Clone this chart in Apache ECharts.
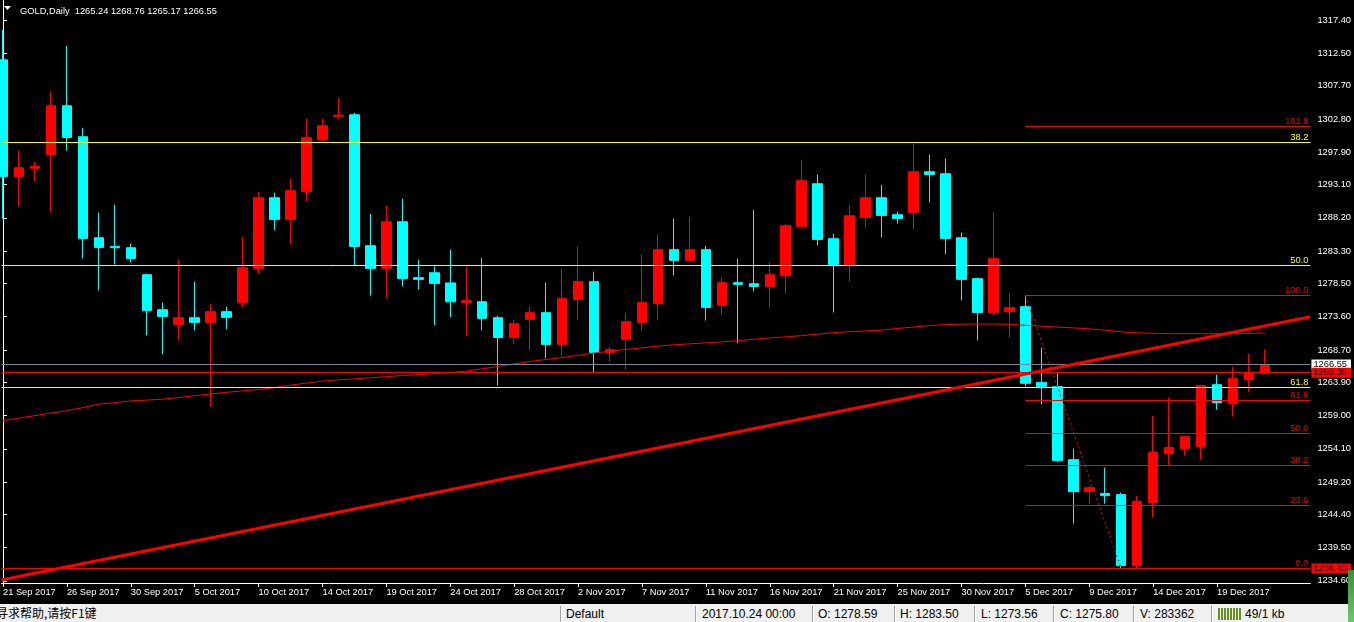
<!DOCTYPE html>
<html>
<head>
<meta charset="utf-8">
<script src="https://cdn.jsdelivr.net/npm/echarts@6/dist/echarts.min.js"></script>
<style>
html,body{margin:0;padding:0;background:#000;width:1354px;height:622px;overflow:hidden;}
#chart{position:absolute;left:0;top:0;width:1354px;height:604px;}
#status{position:absolute;left:0;top:604px;width:1354px;height:18px;background:#f0f0f0;font-family:'Liberation Sans',Arial,sans-serif;font-size:12px;color:#000;overflow:hidden;}
#status span{position:absolute;top:3px;white-space:nowrap;line-height:14px;}
#status .cn{font-family:'Noto Sans CJK SC',sans-serif;font-size:12px;top:2px;}
#status .sep{position:absolute;top:2px;width:1px;height:16px;background:#a0a0a0;border-right:1px solid #fff;}
#green{position:absolute;left:1348px;top:570px;width:6px;height:52px;background:linear-gradient(#3c8c3c,#6cc86c);}
</style>
</head>
<body>
<div id="chart"></div>
<div id="status"></div>
<div id="green"></div>
<script>
// ---------------- data ----------------
const dates = ['21 Sep 2017','22 Sep 2017','23 Sep 2017','25 Sep 2017','26 Sep 2017','27 Sep 2017','28 Sep 2017','29 Sep 2017','30 Sep 2017','2 Oct 2017',
'3 Oct 2017','4 Oct 2017','5 Oct 2017','6 Oct 2017','7 Oct 2017','9 Oct 2017','10 Oct 2017','11 Oct 2017','12 Oct 2017','13 Oct 2017',
'14 Oct 2017','16 Oct 2017','17 Oct 2017','18 Oct 2017','19 Oct 2017','20 Oct 2017','21 Oct 2017','23 Oct 2017','24 Oct 2017','25 Oct 2017',
'26 Oct 2017','27 Oct 2017','28 Oct 2017','30 Oct 2017','31 Oct 2017','1 Nov 2017','2 Nov 2017','3 Nov 2017','4 Nov 2017','6 Nov 2017',
'7 Nov 2017','8 Nov 2017','9 Nov 2017','10 Nov 2017','11 Nov 2017','13 Nov 2017','14 Nov 2017','15 Nov 2017','16 Nov 2017','17 Nov 2017',
'18 Nov 2017','20 Nov 2017','21 Nov 2017','22 Nov 2017','23 Nov 2017','24 Nov 2017','25 Nov 2017','27 Nov 2017','28 Nov 2017','29 Nov 2017',
'30 Nov 2017','1 Dec 2017','2 Dec 2017','4 Dec 2017','5 Dec 2017','6 Dec 2017','7 Dec 2017','8 Dec 2017','9 Dec 2017','11 Dec 2017',
'12 Dec 2017','13 Dec 2017','14 Dec 2017','15 Dec 2017','16 Dec 2017','18 Dec 2017','19 Dec 2017','20 Dec 2017','21 Dec 2017','22 Dec 2017'];

const opens = [1311.54,1294.32,1295.53,1297.52,1304.75,1300.18,1285.27,1283.99,1283.79,1279.81,
1274.64,1272.47,1273.46,1272.77,1274.35,1275.72,1280.74,1291.17,1287.97,1292.06,
1299.73,1303.20,1303.42,1284.09,1280.74,1287.63,1279.37,1280.10,1278.59,1275.72,
1275.82,1273.46,1270.55,1273.21,1274.20,1269.52,1276.16,1278.78,1268.34,1270.26,
1272.77,1275.53,1283.50,1281.92,1283.50,1275.28,1278.63,1278.48,1278.08,1279.66,
1286.94,1293.24,1285.12,1281.18,1288.27,1291.17,1288.66,1289.00,1295.01,1294.72,
1285.27,1279.22,1274.24,1274.35,1275.09,1263.91,1263.28,1252.50,1247.78,1247.49,
1247.34,1236.86,1246.16,1253.39,1254.13,1254.42,1263.57,1260.77,1264.31,1265.24];

const highs = [1315.97,1298.11,1296.49,1306.86,1313.61,1301.50,1288.96,1290.14,1284.38,1279.96,
1275.68,1282.02,1278.78,1275.53,1275.09,1285.42,1292.06,1291.91,1293.98,1302.83,
1302.83,1305.93,1303.72,1288.81,1289.99,1291.03,1282.02,1281.03,1283.50,1280.99,
1282.32,1273.76,1273.17,1275.09,1278.63,1280.69,1283.94,1280.25,1269.18,1274.20,
1282.76,1285.71,1288.07,1288.37,1284.09,1279.37,1282.17,1289.40,1281.58,1287.34,
1296.78,1294.57,1285.86,1289.99,1294.57,1293.09,1289.11,1299.14,1297.52,1296.93,
1286.01,1279.37,1289.11,1277.00,1276.74,1269.03,1265.20,1254.13,1248.67,1251.32,
1247.63,1247.19,1259.00,1261.66,1256.05,1263.57,1265.05,1266.23,1268.15,1268.76];

const lows = [1288.07,1289.89,1293.53,1289.00,1298.11,1282.21,1277.49,1281.33,1281.62,1270.85,
1268.05,1270.11,1271.59,1260.33,1271.74,1274.98,1280.00,1286.35,1284.28,1290.63,
1299.44,1302.83,1281.14,1276.71,1276.31,1278.08,1277.64,1272.33,1273.56,1270.70,
1271.59,1263.47,1269.52,1268.64,1267.46,1267.75,1273.06,1265.39,1267.01,1265.83,
1271.59,1273.06,1279.71,1281.88,1273.06,1273.95,1269.67,1277.34,1274.83,1277.05,
1286.89,1284.13,1274.24,1278.82,1286.64,1285.31,1287.38,1286.49,1290.48,1282.80,
1276.02,1270.11,1273.80,1270.55,1263.32,1260.67,1252.11,1243.06,1246.01,1246.01,
1236.43,1236.50,1243.94,1251.62,1253.10,1252.50,1259.88,1258.85,1262.44,1265.17];

const closes = [1294.32,1295.60,1295.82,1304.75,1300.07,1285.17,1283.84,1283.79,1282.21,1274.54,
1273.65,1273.46,1272.77,1274.35,1273.51,1280.84,1291.17,1287.97,1292.21,1300.03,
1301.80,1303.35,1283.99,1280.74,1287.63,1279.26,1279.12,1278.52,1275.80,1275.97,
1273.36,1270.55,1272.58,1274.20,1269.52,1276.27,1278.78,1268.34,1268.74,1272.87,
1275.68,1283.50,1281.92,1283.50,1274.98,1278.63,1278.38,1278.08,1279.81,1287.04,
1293.68,1285.02,1281.33,1288.52,1291.17,1288.56,1288.12,1295.01,1294.61,1285.17,
1279.12,1274.24,1282.17,1274.94,1263.77,1263.32,1252.36,1247.78,1248.37,1247.19,
1236.86,1246.31,1253.54,1254.28,1255.90,1263.43,1260.92,1264.46,1265.35,1266.55];

// moving average line
const maValues = [1258.26,1258.63,1259.00,1259.37,1259.74,1260.18,1260.70,1260.92,1261.17,1261.29,
1261.43,1261.66,1261.95,1262.20,1262.44,1262.66,1262.87,1263.13,1263.50,1263.80,
1264.09,1264.28,1264.43,1264.59,1264.75,1264.92,1265.05,1265.20,1265.37,1265.57,
1265.91,1266.26,1266.63,1267.00,1267.29,1267.57,1267.90,1268.24,1268.50,1268.77,
1269.01,1269.26,1269.45,1269.60,1269.74,1269.89,1270.05,1270.27,1270.48,1270.64,
1270.81,1271.03,1271.25,1271.40,1271.51,1271.62,1271.87,1272.07,1272.30,1272.43,
1272.50,1272.53,1272.53,1272.49,1272.34,1272.21,1272.07,1271.96,1271.81,1271.62,
1271.37,1271.22,1271.16,1271.10,1271.10,1271.10,1271.10,1271.10,1271.15,1271.20];

const priceTicks = [1234.6,1239.5,1244.4,1249.2,1254.1,1259.0,1263.9,1268.7,1273.6,1278.5,
1283.3,1288.2,1293.1,1297.9,1302.8,1307.7,1312.5,1317.4];

// trend line anchors [barIndex, price]
const trendAnchors = [[0, 1234.78], [79, 1272.25]];

// yellow Fibonacci levels (full width)
const yFibLabels = ['38.2','50.0','61.8'];
const yFibPrices = [1299.33, 1281.17, 1263.15];

// red Fibonacci levels (from bar 64 to the right)
const rFibLabels = ['161.8','100.0','61.8','50.0','38.2','23.6','0.0'];
const rFibPrices = [1301.69, 1276.74, 1261.23, 1256.36, 1251.64, 1245.73, 1236.43];
const rFibFrom = 64, rFibTo = 70;

// horizontal lines with price boxes
const bidPrice = 1266.55;
const hLinePrices = [1265.35, 1236.43];

const statusIndex = 28, statusVolume = '283362';

// ---------------- chart ----------------
const FONT = "'Liberation Sans', Arial, sans-serif";
const FS = 9.3;
const RED = '#ff0000', CYAN = '#00ffff', YEL = '#ffff00';
const xMin = -0.09375, xMax = 81.84375;
const yMin = 1234.289, yMax = 1320.367;
const labelIdx = dates.map((d, i) => i).filter(i => i % 4 === 0);

const candleData = dates.map((d, i) => [i, opens[i], closes[i], lows[i], highs[i]]);
const maData = maValues.map((v, i) => [i, v]);
const slope = (trendAnchors[1][1] - trendAnchors[0][1]) / (trendAnchors[1][0] - trendAnchors[0][0]);
const trendAt = x => trendAnchors[0][1] + slope * (x - trendAnchors[0][0]);
const trendData = [[xMin, trendAt(xMin)], [xMax, trendAt(xMax)]];

const markLines = [];
yFibPrices.forEach((p, k) => markLines.push({
  yAxis: p, lineStyle: {color: YEL, width: 1, type: 'solid'},
  label: {show: true, position: 'insideEndTop', formatter: yFibLabels[k], color: YEL, fontSize: FS, fontFamily: FONT, distance: [2, 1]}
}));
rFibPrices.forEach((p, k) => markLines.push([
  {coord: [rFibFrom, p], lineStyle: {color: RED, width: 1, type: 'solid'},
   label: {show: true, position: 'insideEndTop', formatter: rFibLabels[k], color: '#e80000', fontSize: FS, fontFamily: FONT, distance: [2, 1]}},
  {coord: [xMax, p]}
]));
markLines.push([
  {coord: [rFibFrom, rFibPrices[1]], lineStyle: {color: RED, width: 1, type: [2, 3]}, label: {show: false}},
  {coord: [rFibTo, rFibPrices[6]]}
]);
markLines.push({
  yAxis: bidPrice, lineStyle: {color: '#778899', width: 1, type: 'solid'},
  label: {show: true, position: 'end', formatter: bidPrice.toFixed(2), color: '#000', backgroundColor: '#fff',
          padding: [1, 4, 0, 2], fontSize: FS, fontFamily: FONT, distance: 1}
});
hLinePrices.forEach(p => markLines.push({
  yAxis: p, lineStyle: {color: RED, width: 1, type: 'solid'},
  label: {show: true, position: 'end', formatter: p.toFixed(2), color: '#000', backgroundColor: RED,
          padding: [1, 4, 0, 2], fontSize: FS, fontFamily: FONT, distance: 1}
}));

const last = dates.length - 1;
const titleText = 'GOLD,Daily  ' + [opens[last], highs[last], lows[last], closes[last]].map(v => v.toFixed(2)).join(' ');

const chart = echarts.init(document.getElementById('chart'), null, {renderer: 'canvas'});
chart.setOption({
  animation: false,
  backgroundColor: '#000',
  title: {text: titleText, left: 15, top: 2, textStyle: {color: '#fff', fontSize: FS, fontWeight: 'normal', fontFamily: FONT}},
  graphic: [{type: 'polygon', shape: {points: [[4, 6], [11, 6], [7.5, 10]]}, style: {fill: '#fff'}}],
  grid: {left: 0, top: 0, width: 1311, height: 583, containLabel: false},
  xAxis: {
    type: 'value', min: xMin, max: xMax,
    axisLine: {show: true, lineStyle: {color: '#fff', width: 1}},
    axisTick: {show: true, customValues: labelIdx, length: 4, lineStyle: {color: '#fff'}},
    axisLabel: {show: true, customValues: labelIdx, formatter: v => dates[Math.round(v)], align: 'left',
                color: '#fff', fontSize: FS, fontFamily: FONT, margin: 5},
    splitLine: {show: false}
  },
  yAxis: {
    type: 'value', position: 'right', min: yMin, max: yMax,
    axisLine: {show: true, lineStyle: {color: '#fff', width: 1}},
    axisTick: {show: true, customValues: priceTicks, length: 4, lineStyle: {color: '#fff'}},
    axisLabel: {show: true, customValues: priceTicks, formatter: v => v.toFixed(2), color: '#fff',
                fontSize: FS, fontFamily: FONT, margin: 7},
    splitLine: {show: false}
  },
  series: [
    {
      type: 'candlestick', data: candleData, dimensions: ['idx', 'open', 'close', 'lowest', 'highest'],
      encode: {x: 0, y: [1, 2, 3, 4]}, barWidth: 10, z: 2,
      itemStyle: {color: RED, color0: CYAN, borderColor: RED, borderColor0: CYAN, borderWidth: 1}
    },
    {
      type: 'line', data: maData, symbol: 'none', z: 3, silent: true,
      lineStyle: {color: RED, width: 1}
    },
    {
      type: 'line', data: [], symbol: 'none', z: 4, silent: true,
      markLine: {silent: true, symbol: ['none', 'none'], animation: false, precision: 2, data: markLines}
    },
    {
      type: 'line', data: trendData, symbol: 'none', z: 5, silent: true,
      lineStyle: {color: RED, width: 3}
    }
  ]
});

// ---------------- status bar ----------------
const sb = document.getElementById('status');
const items = [
  ['cn', -4, '寻求帮助,请按F1键'],
  ['sep', 560], ['t', 566, 'Default'],
  ['sep', 695], ['t', 702, '2017.10.24 00:00'],
  ['sep', 812], ['t', 818, 'O: ' + opens[statusIndex].toFixed(2)],
  ['sep', 894], ['t', 900, 'H: ' + highs[statusIndex].toFixed(2)],
  ['sep', 974], ['t', 981, 'L: ' + lows[statusIndex].toFixed(2)],
  ['sep', 1053], ['t', 1060, 'C: ' + closes[statusIndex].toFixed(2)],
  ['sep', 1133], ['t', 1140, 'V: ' + statusVolume],
  ['sep', 1211], ['t', 1245, '49/1 kb']
];
items.forEach(it => {
  if (it[0] === 'sep') {
    const d = document.createElement('div'); d.className = 'sep'; d.style.left = it[1] + 'px'; sb.appendChild(d);
  } else {
    const s = document.createElement('span'); if (it[0] === 'cn') s.className = 'cn';
    s.style.left = it[1] + 'px'; s.textContent = it[2]; sb.appendChild(s);
  }
});
const icon = document.createElement('div');
icon.style.cssText = 'position:absolute;left:1218px;top:4px;width:24px;height:12px;background:repeating-linear-gradient(90deg,#6b8e23 0 2px,#f0f0f0 2px 3px);';
sb.appendChild(icon);
</script>
</body>
</html>
